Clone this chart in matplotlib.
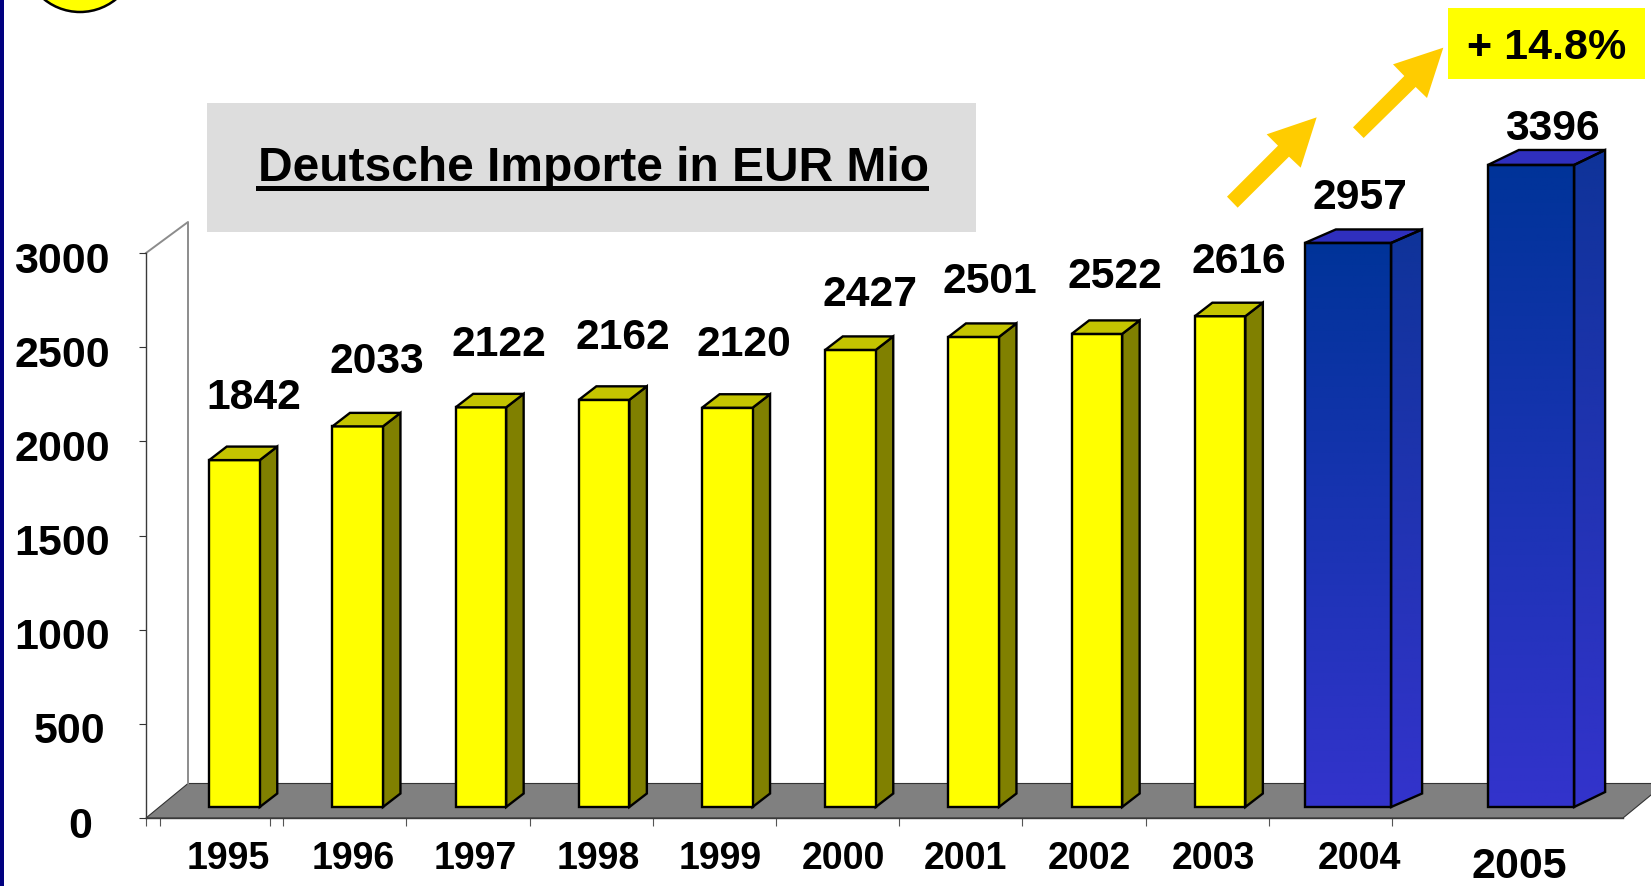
import numpy as np
import matplotlib
matplotlib.use('Agg')
import matplotlib.pyplot as plt
from matplotlib.patches import Polygon, Rectangle, Circle
from matplotlib.colors import LinearSegmentedColormap
from matplotlib.transforms import ScaledTranslation

plt.rcParams['font.family'] = ['Liberation Sans', 'DejaVu Sans']
plt.rcParams['font.weight'] = 'bold'

years = ['1995', '1996', '1997', '1998', '1999', '2000', '2001', '2002', '2003', '2004', '2005']
imports = [1842, 2033, 2122, 2162, 2120, 2427, 2501, 2522, 2616, 2957, 3396]
y_ticks = [0, 500, 1000, 1500, 2000, 2500, 3000]
title = 'Deutsche Importe in EUR Mio'
growth = '+ 14.8%'

W, H = 1651, 886
fig = plt.figure(figsize=(W / 100, H / 100), dpi=100)

# layer in pixels for everything that is not data
bg = fig.add_axes([0, 0, 1, 1], zorder=0)
bg.set_xlim(0, W)
bg.set_ylim(H, 0)
bg.axis('off')

# chart axes: x in categories, y in EUR Mio
X0 = 234.5
PX_X = 123.2
PX_Y = 565 / 3000
x_left = (146 - X0) / PX_X
x_right = (1623 - X0) / PX_X
ax = fig.add_axes([146 / W, (H - 818) / H, (1623 - 146) / W, 565 / H], zorder=1)
ax.patch.set_visible(False)
ax.set_xlim(x_left, x_right)
ax.set_ylim(0, 3000)
ax.set_autoscale_on(False)

lift = 11 / PX_Y      # bars stand on the floor, a bit behind the front edge
wall_dx = 42 / PX_X   # depth of the floor
wall_dy = 34.5 / PX_Y
top_dy = 31 / PX_Y

# floor and walls
ax.add_patch(Polygon([(x_left, 0), (x_left + wall_dx, wall_dy), (x_right + wall_dx, wall_dy), (x_right, 0)],
                     closed=True, fc='#808080', ec='#333333', lw=0.8, clip_on=False, zorder=1))
ax.plot([x_left, x_left + wall_dx, x_left + wall_dx], [3000, 3000 + top_dy, wall_dy],
        color='#8c8c8c', lw=1.4, clip_on=False, zorder=1.5)

blue_cmap = LinearSegmentedColormap.from_list('blau', ['#3333CC', '#003399'])
side_cmap = LinearSegmentedColormap.from_list('blau2', ['#3333CC', '#0F3399'])
gradient = np.linspace(0, 1, 256).reshape(-1, 1)
EDGE = 1.7


def face(points, fc):
    ax.add_patch(Polygon(points, closed=True, fc=fc, ec='black', lw=EDGE, clip_on=False, zorder=3, joinstyle='miter'))


def gradient_face(points, cmap, y0, y1):
    xs = [p[0] for p in points]
    im = ax.imshow(gradient, cmap=cmap, origin='lower', aspect='auto', zorder=3,
                   extent=(min(xs), max(xs), y0, y1), vmin=0, vmax=1)
    im.set_clip_box(fig.bbox)
    im.set_clip_path(Polygon(points, closed=True, transform=ax.transData))
    ax.add_patch(Polygon(points, closed=True, fc='none', ec='black', lw=EDGE, clip_on=False, zorder=3.1,
                         joinstyle='miter'))


x_pos = np.arange(len(imports), dtype=float)
# the two blue bars were placed by hand in the original slide
x_pos[9] += 0.038
x_pos[10] += 0.5235
extra = [0, -12, 0, 0, 0, 0, -5, -10, -10, 38, 13]

for i, v in enumerate(imports):
    x = x_pos[i]
    blue = i >= 9
    w = 0.70 if blue else 0.41
    dx = (31 if blue else 17.5) / PX_X
    dy = (15 if i == 10 else 13.5) / PX_Y
    l, r = x - w / 2, x + w / 2
    b, t = lift, lift + v + extra[i]
    front = [(l, b), (r, b), (r, t), (l, t)]
    side = [(r, b), (r + dx, b + dy), (r + dx, t + dy), (r, t)]
    top = [(l, t), (r, t), (r + dx, t + dy), (l + dx, t + dy)]
    if blue:
        gradient_face(side, side_cmap, b, t + dy)
        gradient_face(front, blue_cmap, b, t)
        face(top, '#2F2FBE')
    else:
        face(side, '#808000')
        face(front, '#FFFF00')
        face(top, '#C4C400')

# value labels
label_dx = [19, 19, 18, 19, 17, 19, 16, 18, 19, 12, 21]
label_dy = [73, 73, 73, 73, 74, 66, 65, 66, 63, 63, 49]
for i, v in enumerate(imports):
    ax.annotate(str(v), (x_pos[i], v), xytext=(label_dx[i], label_dy[i]), textcoords='offset pixels',
                ha='center', va='center', fontsize=30.7, fontweight='bold', annotation_clip=False, zorder=5)

# axes lines and ticks
for s in ['top', 'right']:
    ax.spines[s].set_visible(False)
for s in ['left', 'bottom']:
    ax.spines[s].set_color('#3a3a3a')
    ax.spines[s].set_linewidth(1.0)
    ax.spines[s].set_zorder(2)

ax.set_yticks(y_ticks)
ax.set_yticklabels([str(t) for t in y_ticks], fontsize=31, fontweight='bold')
ax.tick_params(axis='y', length=5, width=0.8, color='#333333', pad=21)
y_shift = {0: -18, 500: -5}
for t, lab in zip(y_ticks, ax.get_yticklabels()):
    lab.set_transform(lab.get_transform() + ScaledTranslation(y_shift.get(t, 0) / 100, -4 / 100, fig.dpi_scale_trans))

major = [x_left, (270 - X0) / PX_X] + [(160 - X0) / PX_X + k for k in range(11)]
ax.set_xticks(major)
ax.set_xticklabels([])
ax.tick_params(axis='x', which='major', length=6, width=0.8, color='#555555')

year_x = (np.array([228.5, 353, 475, 598, 720, 843, 965, 1089, 1213, 1359, 1519]) - X0) / PX_X
ax.set_xticks(year_x, minor=True)
ax.set_xticklabels(years, minor=True, fontsize=27, fontweight='bold')
ax.tick_params(axis='x', which='minor', length=0, pad=16.5)
last = ax.get_xticklabels(minor=True)[-1]
last.set_fontsize(31)
last.set_transform(last.get_transform() + ScaledTranslation(0, -6 / 100, fig.dpi_scale_trans))

# slide decoration
bg.add_patch(Rectangle((0, 0), 4, H, fc='#000080', ec='none'))
bg.add_patch(Circle((80, -45), 57, fc='#FFFF00', ec='black', lw=1.8))
bg.add_patch(Rectangle((207, 103), 769, 129, fc='#DDDDDD', ec='none'))
bg.text(593, 168, title, ha='center', va='center', fontsize=34.5, fontweight='bold')
bg.add_patch(Rectangle((256, 186), 673, 5, fc='black', ec='none'))
bg.add_patch(Rectangle((1448, 8), 197, 71, fc='#FFFF00', ec='none'))
bg.text(1547, 48, growth, ha='center', va='center', fontsize=31, fontweight='bold')

arrow1 = np.array([(231, 590), (384, 437), (350, 403), (500, 352), (452, 503), (417, 470), (263, 623)]) / 3 + [1150, 0]
arrow2 = np.array([(609, 382), (763, 228), (729, 193), (880, 143), (831, 294), (797, 261), (641, 414)]) / 3 + [1150, 0]
bg.add_patch(Polygon(arrow1, closed=True, fc='#FFCC00', ec='none'))
bg.add_patch(Polygon(arrow2, closed=True, fc='#FFCC00', ec='none'))

fig.savefig('out.png', dpi=100)
